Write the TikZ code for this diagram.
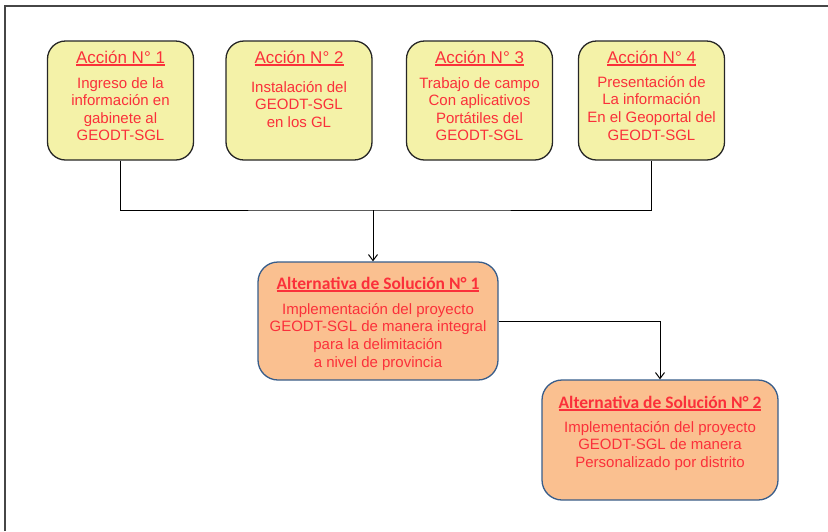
\documentclass[tikz,border=0pt]{standalone}
\usepackage{fontspec}
\setmainfont{Liberation Sans}
\newfontfamily\calibri{Carlito}
\usetikzlibrary{arrows.meta}
\definecolor{AccionFill}{RGB}{244,242,168}
\definecolor{AlternFill}{RGB}{250,192,144}
\definecolor{AlternLine}{RGB}{56,93,138}
\definecolor{TextoRojo}{RGB}{250,48,58}
\definecolor{MarcoGris}{RGB}{70,70,70}
\newcommand\subrayado[1]{\leavevmode\vtop{\hbox{#1}\kern1.2pt\hrule height 1.2pt}}

\begin{document}
\begin{tikzpicture}[x=1pt,y=-1pt,
  acc/.style={draw=black!85,line width=1.3pt,fill=AccionFill,rounded corners=18pt,minimum width=146pt,minimum height=119pt,inner sep=0pt},
  alt/.style n args={2}{draw=AlternLine,line width=1.3pt,fill=AlternFill,rounded corners=20pt,minimum width=#1pt,minimum height=#2pt,inner sep=0pt},
  tit/.style={TextoRojo,anchor=base,inner sep=0pt,font=\fontsize{17}{20}\selectfont},
  titalt/.style={tit,font=\calibri\bfseries\fontsize{17.5}{20}\selectfont},
  cuerpo/.style={TextoRojo,anchor=north,align=center,inner sep=0pt,font=\fontsize{15}{17.6}\selectfont},
  con/.style={black,line width=1pt},
  flecha/.style={con,-{Straight Barb[length=6pt,width=9pt]}}]
    \useasboundingbox (0,0) rectangle (828,531);
    \draw[MarcoGris,line width=2pt] (5,531) -- (5,6) -- (828,6);
    \foreach \n/\x/\y/\txt in %
    {1/120.5/77/{Ingreso de la\\información en\\gabinete al\\GEODT-SGL},
     2/299/81/{Instalación del\\GEODT-SGL\\en los GL},
     3/479.5/77/{Trabajo de campo\\Con aplicativos\\Portátiles del\\GEODT-SGL},
     4/651.5/76/{Presentación de\\La información\\En el Geoportal del\\GEODT-SGL}} {
       \node[acc](a\n) at (\x,100.5) {};
       \node[tit](h\n) at (\x,63) {\subrayado{Acción N° \n}};
       \node[cuerpo](b\n) at (\x,\y) {\txt};
    }
    \node[alt={240}{118}](s1) at (378,321) {};
    \node[titalt](hs1) at (378,289) {\subrayado{Alternativa de Solución N° 1}};
    \node[cuerpo](bs1) at (378,303) {Implementación del proyecto\\GEODT-SGL de manera integral\\para la delimitación\\a nivel de provincia};
    \node[alt={236}{120}](s2) at (660,440) {};
    \node[titalt](hs2) at (660,408) {\subrayado{Alternativa de Solución N° 2}};
    \node[cuerpo](bs2) at (660,421) {Implementación del proyecto\\GEODT-SGL de manera\\Personalizado por distrito};
    \coordinate (j) at (373,210);
    \draw[con] (a1.south) |- (j) -| (a4.south);
    \draw[flecha] (j) -- (j |- s1.north);
    \draw[flecha] (s1.east) -| (s2.north);
\end{tikzpicture}
\end{document}
